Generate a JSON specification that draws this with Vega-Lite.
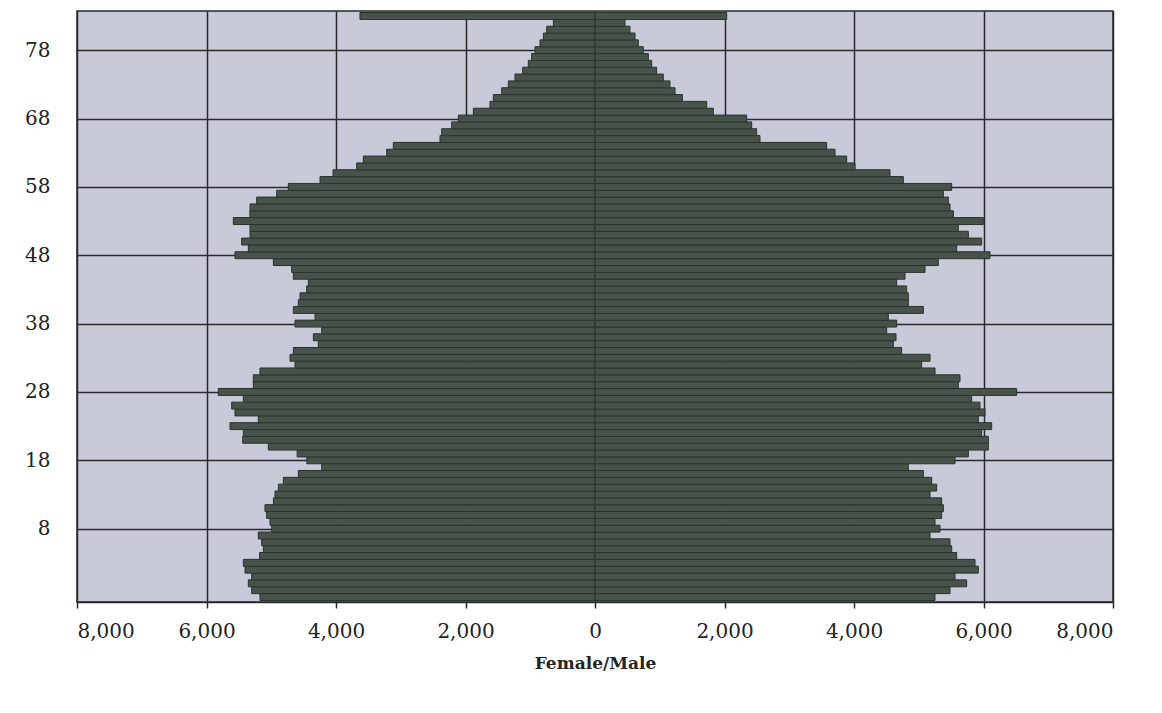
{
  "$schema": "https://vega.github.io/schema/vega-lite/v6.json",
  "width": 1036,
  "height": 591,
  "autosize": "none",
  "padding": {"left": 77, "top": 11, "right": 49, "bottom": 111},
  "background": "white",
  "config": {
    "view": {"fill": "#c9cad9", "stroke": "#2a2a2a", "strokeWidth": 1.5},
    "font": "DejaVu Serif"
  },
  "data": {"values": [
    {"age": -2, "female": -5174, "male": 5251},
    {"age": -1, "female": -5302, "male": 5483},
    {"age": 0, "female": -5354, "male": 5740},
    {"age": 1, "female": -5302, "male": 5560},
    {"age": 2, "female": -5405, "male": 5920},
    {"age": 3, "female": -5431, "male": 5869},
    {"age": 4, "female": -5180, "male": 5586},
    {"age": 5, "female": -5122, "male": 5509},
    {"age": 6, "female": -5148, "male": 5483},
    {"age": 7, "female": -5200, "male": 5174},
    {"age": 8, "female": -4993, "male": 5328},
    {"age": 9, "female": -5019, "male": 5251},
    {"age": 10, "female": -5071, "male": 5354},
    {"age": 11, "female": -5097, "male": 5380},
    {"age": 12, "female": -4967, "male": 5354},
    {"age": 13, "female": -4942, "male": 5174},
    {"age": 14, "female": -4890, "male": 5277},
    {"age": 15, "female": -4813, "male": 5200},
    {"age": 16, "female": -4582, "male": 5071},
    {"age": 17, "female": -4221, "male": 4839},
    {"age": 18, "female": -4450, "male": 5560},
    {"age": 19, "female": -4600, "male": 5766},
    {"age": 20, "female": -5045, "male": 6075},
    {"age": 21, "female": -5441, "male": 6075},
    {"age": 22, "female": -5431, "male": 5972},
    {"age": 23, "female": -5637, "male": 6126},
    {"age": 24, "female": -5200, "male": 5920},
    {"age": 25, "female": -5560, "male": 6023},
    {"age": 26, "female": -5611, "male": 5946},
    {"age": 27, "female": -5431, "male": 5817},
    {"age": 28, "female": -5818, "male": 6512},
    {"age": 29, "female": -5277, "male": 5611},
    {"age": 30, "female": -5277, "male": 5637},
    {"age": 31, "female": -5174, "male": 5251},
    {"age": 32, "female": -4633, "male": 5045},
    {"age": 33, "female": -4710, "male": 5174},
    {"age": 34, "female": -4659, "male": 4736},
    {"age": 35, "female": -4273, "male": 4607},
    {"age": 36, "female": -4350, "male": 4649},
    {"age": 37, "female": -4221, "male": 4505},
    {"age": 38, "female": -4633, "male": 4659},
    {"age": 39, "female": -4324, "male": 4530},
    {"age": 40, "female": -4659, "male": 5071},
    {"age": 41, "female": -4582, "male": 4839},
    {"age": 42, "female": -4556, "male": 4839},
    {"age": 43, "female": -4453, "male": 4813},
    {"age": 44, "female": -4427, "male": 4659},
    {"age": 45, "female": -4659, "male": 4788},
    {"age": 46, "female": -4685, "male": 5097},
    {"age": 47, "female": -4967, "male": 5302},
    {"age": 48, "female": -5560, "male": 6100},
    {"age": 49, "female": -5354, "male": 5586},
    {"age": 50, "female": -5457, "male": 5972},
    {"age": 51, "female": -5328, "male": 5766},
    {"age": 52, "female": -5328, "male": 5611},
    {"age": 53, "female": -5586, "male": 5997},
    {"age": 54, "female": -5330, "male": 5535},
    {"age": 55, "female": -5328, "male": 5483},
    {"age": 56, "female": -5225, "male": 5457},
    {"age": 57, "female": -4916, "male": 5380},
    {"age": 58, "female": -4736, "male": 5509},
    {"age": 59, "female": -4247, "male": 4762},
    {"age": 60, "female": -4046, "male": 4556},
    {"age": 61, "female": -3681, "male": 4015},
    {"age": 62, "female": -3578, "male": 3887},
    {"age": 63, "female": -3217, "male": 3707},
    {"age": 64, "female": -3115, "male": 3578},
    {"age": 65, "female": -2394, "male": 2548},
    {"age": 66, "female": -2368, "male": 2497},
    {"age": 67, "female": -2213, "male": 2420},
    {"age": 68, "female": -2111, "male": 2342},
    {"age": 69, "female": -1879, "male": 1827},
    {"age": 70, "female": -1622, "male": 1725},
    {"age": 71, "female": -1570, "male": 1350},
    {"age": 72, "female": -1441, "male": 1236},
    {"age": 73, "female": -1339, "male": 1158},
    {"age": 74, "female": -1236, "male": 1055},
    {"age": 75, "female": -1117, "male": 952},
    {"age": 76, "female": -1030, "male": 875},
    {"age": 77, "female": -978, "male": 824},
    {"age": 78, "female": -927, "male": 746},
    {"age": 79, "female": -849, "male": 669},
    {"age": 80, "female": -798, "male": 618},
    {"age": 81, "female": -746, "male": 540},
    {"age": 82, "female": -643, "male": 463},
    {"age": 83, "female": -3630, "male": 2034}
  ]},
  "transform": [{"fold": ["female", "male"], "as": ["sex", "value"]}],
  "mark": {"type": "bar", "orient": "horizontal", "height": 6.95, "fill": "#47534a", "stroke": "#2b332d", "strokeWidth": 1, "clip": true},
  "encoding": {
    "y": {
      "field": "age", "type": "quantitative",
      "scale": {"domain": [-2, 83], "nice": false, "zero": false},
      "axis": {
        "values": [8, 18, 28, 38, 48, 58, 68, 78],
        "title": null, "ticks": false, "tickSize": 0, "labelPadding": 27,
        "labelFontSize": 20, "labelColor": "#222222", "labelFont": "DejaVu Serif",
        "grid": true, "gridColor": "#2a2a2a", "gridWidth": 1.5, "domain": false
      }
    },
    "x": {
      "field": "value", "type": "quantitative",
      "scale": {"domain": [-8000, 8000], "nice": false},
      "axis": {
        "values": [-8000, -6000, -4000, -2000, 0, 2000, 4000, 6000, 8000],
        "labelExpr": "format(abs(datum.value), ',')",
        "title": "Female/Male", "titleFontSize": 17, "titleFontWeight": "bold",
        "titleFont": "DejaVu Serif", "titleColor": "#222222", "titlePadding": 14,
        "labelFontSize": 20, "labelPadding": 13, "labelColor": "#222222", "labelFont": "DejaVu Serif",
        "tickSize": 6, "tickColor": "#2a2a2a", "tickWidth": 1.5,
        "grid": true, "gridColor": "#2a2a2a", "gridWidth": 1.5,
        "domainColor": "#2a2a2a", "domainWidth": 1.5
      }
    }
  }
}
